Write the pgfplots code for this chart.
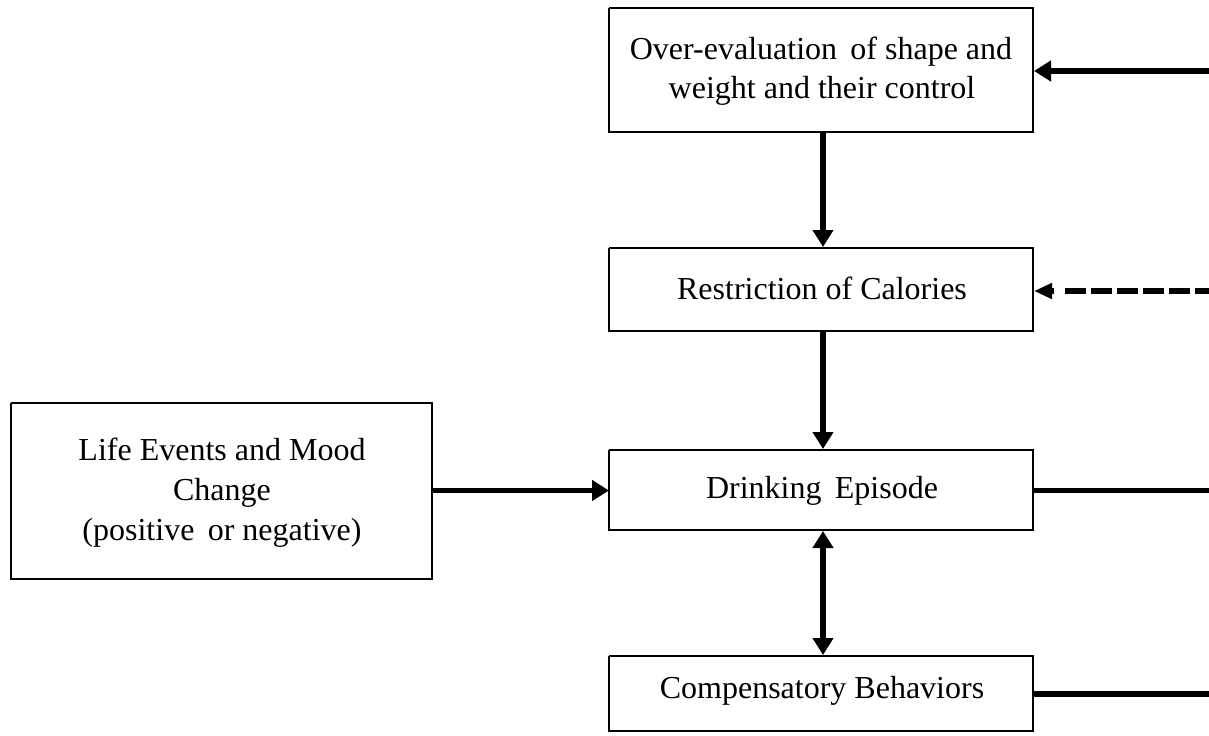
\documentclass[border=0pt]{standalone}
\usepackage{pgfplots}
\pgfplotsset{compat=1.18}
\usetikzlibrary{arrows.meta}
\usepackage{fontspec}
\setmainfont{Liberation Serif}
\tikzset{bt/.style={font=\fontsize{16}{19.5}\selectfont, inner sep=0pt, anchor=base},
  tip/.style={-{Triangle[length=8.5pt,width=10pt]}},
  bbox/.style={black, line width=1.25pt},
  arr/.style={black, line width=2.75pt}}
\begin{document}
\begin{tikzpicture}
\begin{axis}[x=0.5pt, y=0.5pt, xmin=0, xmax=1209, ymin=0, ymax=735,
  scale only axis, hide axis, clip=true]
% boxes (Y = 735 - pixel y)
\addplot[bbox] coordinates {(609,727) (1033,727) (1033,603) (609,603) (609,727)};
\addplot[bbox] coordinates {(609,487) (1033,487) (1033,404) (609,404) (609,487)};
\addplot[bbox] coordinates {(609,285) (1033,285) (1033,205) (609,205) (609,285)};
\addplot[bbox] coordinates {(609,79) (1033,79) (1033,4) (609,4) (609,79)};
\addplot[bbox] coordinates {(11,332) (432,332) (432,156) (11,156) (11,332)};
% arrows
\addplot[arr, tip] coordinates {(1215,664) (1034,664)};
\addplot[arr, dash pattern=on 10.5pt off 2.5pt] coordinates {(1065,444) (1215,444)};
\addplot[arr, -{Triangle[length=9pt,width=7.5pt]}] coordinates {(1054,444) (1034,444)};
\addplot[arr] coordinates {(1033,244.5) (1215,244.5)};
\addplot[arr] coordinates {(1033,41) (1215,41)};
\addplot[arr, tip] coordinates {(432,244.5) (609,244.5)};
\addplot[arr, tip] coordinates {(823,603) (823,488)};
\addplot[arr, tip] coordinates {(823,404) (823,286)};
\addplot[arr, {Triangle[length=8.5pt,width=10pt]}-{Triangle[length=8.5pt,width=10pt]}] coordinates {(823,204) (823,80)};
% texts (base line positions)
\node[bt] at (axis cs:821,675) {Over-evaluation\, of shape and};
\node[bt] at (axis cs:822,636) {weight and their control};
\node[bt] at (axis cs:822,436) {Restriction of Calories};
\node[bt] at (axis cs:822,237) {Drinking\, Episode};
\node[bt] at (axis cs:822,37) {Compensatory Behaviors};
\node[bt] at (axis cs:222,275) {Life Events and Mood};
\node[bt] at (axis cs:222,235) {Change};
\node[bt] at (axis cs:222,195) {(positive\, or negative)};
\end{axis}
\pgfresetboundingbox
\path (current axis.south west) rectangle (current axis.north east);
\end{tikzpicture}
\end{document}
